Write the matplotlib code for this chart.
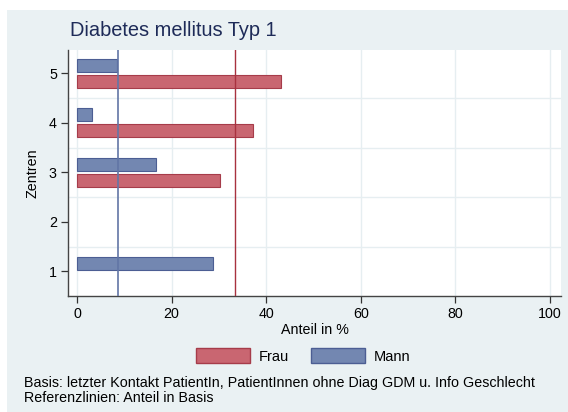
import numpy as np
import matplotlib.pyplot as plt
from matplotlib.patches import Rectangle, Patch

plt.rcParams['font.family'] = ['Liberation Sans', 'DejaVu Sans']

# DATA
zentren = np.array([1, 2, 3, 4, 5])
frau = np.array([np.nan, np.nan, 30.2, 37.3, 43.1])
mann = np.array([28.7, np.nan, 16.8, 3.1, 8.5])
ref_frau = 33.5
ref_mann = 8.6
xticks = [0, 20, 40, 60, 80, 100]

BG = '#EAF1F3'
RED = '#C96671'
RED_EDGE = '#A63C4A'
BLUE = '#7387B1'
BLUE_EDGE = '#4C5E93'
TITLE_COL = '#1E2B58'

fig = plt.figure(figsize=(5.68, 4.12), dpi=100)
fig.patch.set_facecolor('white')
fig.patches.append(Rectangle((7 / 568, 0), 1 - 7 / 568, 1 - 10 / 412,
                             transform=fig.transFigure, facecolor=BG,
                             edgecolor='none', zorder=-10))

ax = fig.add_axes([68 / 568, 1 - 296 / 412, (561 - 68) / 568, (296 - 50) / 412])
ax.set_facecolor('white')

off, h = 0.165, 0.26
m = ~np.isnan(mann)
ax.barh(zentren[m] + off, mann[m], height=h, color=BLUE, edgecolor=BLUE_EDGE,
        linewidth=0.8, zorder=3)
f = ~np.isnan(frau)
ax.barh(zentren[f] - off, frau[f], height=h, color=RED, edgecolor=RED_EDGE,
        linewidth=0.8, zorder=3)

ax.axvline(ref_mann, color='#6276A6', linewidth=1.2, zorder=4)
ax.axvline(ref_frau, color='#A8323F', linewidth=1.0, zorder=4)

ax.set_xlim(-1.9, 102.3)
ax.set_ylim(0.5, 5.47)
ax.set_xticks(xticks)
ax.set_yticks(zentren)
ax.set_yticks([1.5, 2.5, 3.5, 4.5], minor=True)
ax.tick_params(axis='y', which='minor', length=0)
ax.tick_params(axis='both', which='major', labelsize=10.3, length=5,
               color='#333333', width=0.9, pad=3)
ax.grid(axis='x', which='major', color='#E6EEF1', linewidth=1.0, zorder=0)
ax.grid(axis='y', which='minor', color='#E6EEF1', linewidth=1.0, zorder=0)
ax.set_axisbelow(True)

for s in ['top', 'right']:
    ax.spines[s].set_visible(False)
for s in ['left', 'bottom']:
    ax.spines[s].set_color('#444444')
    ax.spines[s].set_linewidth(1.0)

ax.set_xlabel('Anteil in %', fontsize=10.3, labelpad=1)
ax.set_ylabel('Zentren', fontsize=10.3, labelpad=7)

fig.text(70 / 568, 1 - 36 / 412, 'Diabetes mellitus Typ 1', fontsize=14.4,
         color=TITLE_COL, va='baseline', ha='left')

handles = [Patch(facecolor=RED, edgecolor=RED_EDGE, label='Frau'),
           Patch(facecolor=BLUE, edgecolor=BLUE_EDGE, label='Mann')]
fig.legend(handles=handles, loc='center', bbox_to_anchor=(303 / 568, 1 - 356 / 412),
           ncol=2, frameon=False, fontsize=10.5, handlelength=3.7,
           handleheight=1.2, columnspacing=1.5, handletextpad=0.6,
           borderpad=0, borderaxespad=0)

fig.text(24 / 568, 1 - 387 / 412,
         'Basis: letzter Kontakt PatientIn, PatientInnen ohne Diag GDM u. Info Geschlecht',
         fontsize=10.3, ha='left', va='baseline')
fig.text(24 / 568, 1 - 402 / 412, 'Referenzlinien: Anteil in Basis',
         fontsize=10.3, ha='left', va='baseline')

fig.savefig('out.png', dpi=100)
